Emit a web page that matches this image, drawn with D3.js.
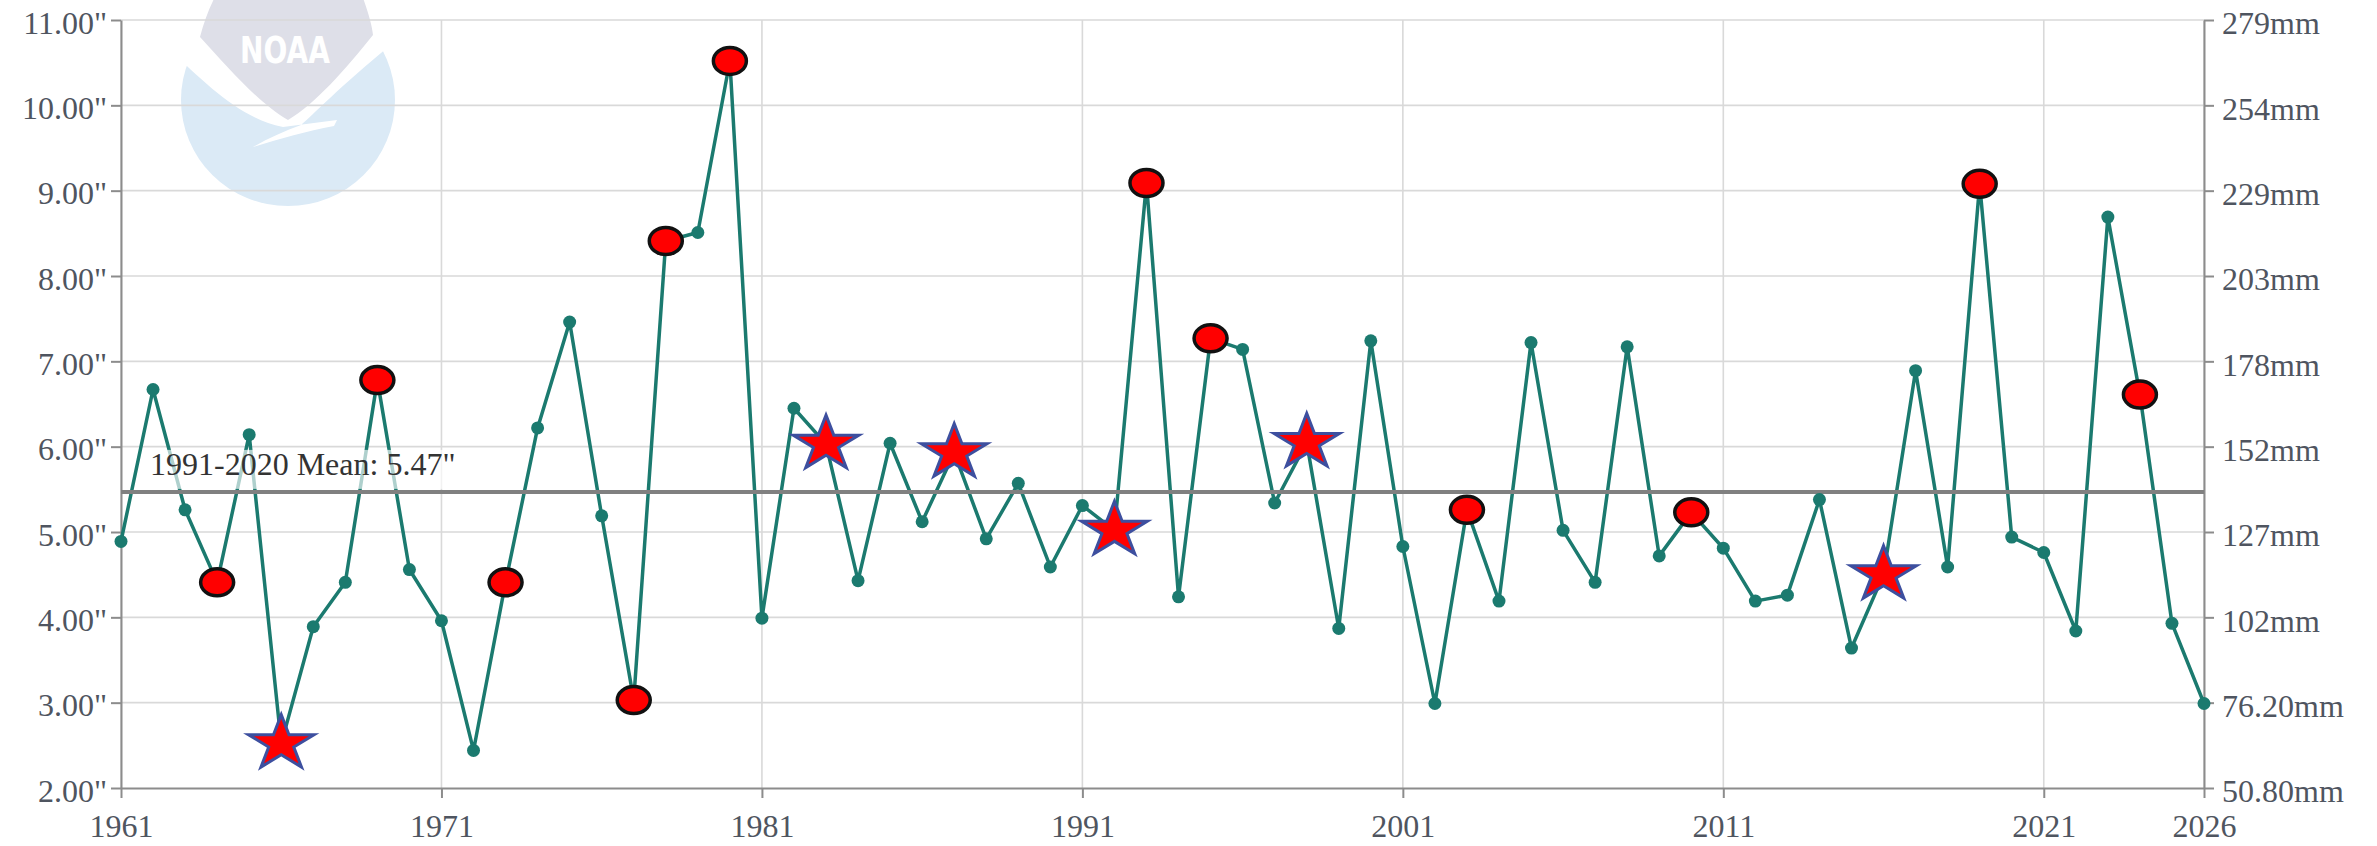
<!DOCTYPE html>
<html>
<head>
<meta charset="utf-8">
<script src="https://cdn.jsdelivr.net/npm/d3@7/dist/d3.min.js"></script>
<style>
  html, body { margin: 0; padding: 0; background: #ffffff; }
  svg { display: block; }
  .serif { font-family: "Liberation Serif", "Times New Roman", serif; }
</style>
</head>
<body>
<svg id="chart" width="2377" height="846"></svg>
<script>
// ---------------- DATA ----------------
const years = [
  1961,1962,1963,1964,1965,1966,1967,1968,1969,1970,
  1971,1972,1973,1974,1975,1976,1977,1978,1979,1980,
  1981,1982,1983,1984,1985,1986,1987,1988,1989,1990,
  1991,1992,1993,1994,1995,1996,1997,1998,1999,2000,
  2001,2002,2003,2004,2005,2006,2007,2008,2009,2010,
  2011,2012,2013,2014,2015,2016,2017,2018,2019,2020,
  2021,2022,2023,2024,2025,2026
];
const precipInches = [
  4.89, 6.67, 5.26, 4.41, 6.14, 2.52, 3.89, 4.41, 6.78, 4.56,
  3.96, 2.44, 4.41, 6.22, 7.46, 5.19, 3.03, 8.41, 8.51, 10.52,
  3.99, 6.45, 6.03, 4.43, 6.04, 5.12, 5.93, 4.92, 5.57, 4.59,
  5.31, 5.02, 9.09, 4.24, 7.27, 7.14, 5.34, 6.05, 3.87, 7.24,
  4.83, 2.99, 5.26, 4.19, 7.22, 5.02, 4.41, 7.17, 4.72, 5.23,
  4.81, 4.19, 4.26, 5.38, 3.64, 4.50, 6.89, 4.59, 9.08, 4.94,
  4.76, 3.84, 8.69, 6.61, 3.93, 2.99
];
const circleYears = [1964, 1969, 1973, 1977, 1978, 1980, 1993, 1995, 2003, 2010, 2019, 2024];
const starYears = [1966, 1983, 1987, 1992, 1998, 2016];
const meanValue = 5.47;
const meanLabel = '1991-2020 Mean: 5.47"';
const xTickValues = [1961, 1971, 1981, 1991, 2001, 2011, 2021, 2026];
const yTickValues = [2, 3, 4, 5, 6, 7, 8, 9, 10, 11];
const yTickLabelsIn = ['2.00"', '3.00"', '4.00"', '5.00"', '6.00"', '7.00"', '8.00"', '9.00"', '10.00"', '11.00"'];
const yTickLabelsMm = ['50.80mm', '76.20mm', '102mm', '127mm', '152mm', '178mm', '203mm', '229mm', '254mm', '279mm'];

// ---------------- LAYOUT ----------------
const svg = d3.select('#chart');
const x = d3.scaleLinear().domain([1961, 2026]).range([121, 2204]);
const y = d3.scaleLinear().domain([2, 11]).range([788, 20]);
const teal = '#1b7a6f';
const labelColor = '#4f5560';
const serif = '"Liberation Serif", "Times New Roman", serif';

// ---------------- NOAA WATERMARK ----------------
const logo = svg.append('g').attr('class', 'logo');
logo.append('ellipse').attr('cx', 288).attr('cy', 100).attr('rx', 107).attr('ry', 106)
  .attr('fill', '#dbeaf6');
logo.append('path')
  .attr('d', 'M168,48 C208,86 240,118 283,127 L337,120 L334,126 C306,131 280,139 253,147 C268,138 285,131 301,125 C312,116 338,88 392,44 L392,-5 L168,-5 Z')
  .attr('fill', '#ffffff');
logo.append('path')
  .attr('d', 'M216,-5 L362,-5 C368,12 372,25 373,35 C345,70 315,104 288,120 C260,104 230,70 200,37 C204,22 209,8 216,-5 Z')
  .attr('fill', '#dedfe8');
logo.append('text').attr('x', 285).attr('y', 63).attr('text-anchor', 'middle')
  .style('font-family', '"DejaVu Sans", sans-serif').attr('font-weight', 'bold')
  .attr('font-size', 37).attr('textLength', 90).attr('lengthAdjust', 'spacingAndGlyphs')
  .attr('fill', '#ffffff').text('NOAA');

// ---------------- GRID ----------------
const grid = svg.append('g').attr('class', 'grid');
grid.selectAll('line.h').data(yTickValues.filter(d => d > 2)).join('line')
  .attr('class', 'h')
  .attr('x1', x.range()[0]).attr('x2', x.range()[1])
  .attr('y1', d => y(d)).attr('y2', d => y(d))
  .attr('stroke', '#d9d9d9').attr('stroke-width', 1.6);
grid.selectAll('line.v').data(xTickValues).join('line')
  .attr('class', 'v')
  .attr('x1', d => x(d)).attr('x2', d => x(d))
  .attr('y1', y.range()[1]).attr('y2', y.range()[0])
  .attr('stroke', '#d9d9d9').attr('stroke-width', 1.6);

// ---------------- AXES ----------------
function styleAxis(g) {
  g.attr('font-family', null).attr('font-size', null);
  g.select('.domain').attr('stroke', '#8c8c8c').attr('stroke-width', 2);
  g.selectAll('.tick line').attr('stroke', '#8c8c8c').attr('stroke-width', 2);
  g.selectAll('.tick text').attr('fill', labelColor).attr('class', 'serif')
    .style('font-family', serif).style('font-size', '32px');
}
const leftAxis = svg.append('g').attr('transform', `translate(${x.range()[0]},0)`)
  .call(d3.axisLeft(y).tickValues(yTickValues)
    .tickFormat((d, i) => yTickLabelsIn[i]).tickSize(10).tickSizeOuter(0).tickPadding(4));
styleAxis(leftAxis);
leftAxis.selectAll('.tick text').attr('dy', '0.41em');

const rightAxis = svg.append('g').attr('transform', `translate(${x.range()[1]},0)`)
  .call(d3.axisRight(y).tickValues(yTickValues)
    .tickFormat((d, i) => yTickLabelsMm[i]).tickSize(10).tickSizeOuter(0).tickPadding(8));
styleAxis(rightAxis);
rightAxis.selectAll('.tick text').attr('dy', '0.43em');

const bottomAxis = svg.append('g').attr('transform', `translate(0,${y.range()[0]})`)
  .call(d3.axisBottom(x).tickValues(xTickValues)
    .tickFormat(d3.format('d')).tickSize(10).tickSizeOuter(0).tickPadding(16));
styleAxis(bottomAxis);

// ---------------- DATA LINE ----------------
const data = years.map((yr, i) => ({ year: yr, value: precipInches[i] }));
svg.append('path').datum(data)
  .attr('fill', 'none').attr('stroke', teal).attr('stroke-width', 3.5)
  .attr('stroke-linejoin', 'round')
  .attr('d', d3.line().x(d => x(d.year)).y(d => y(d.value)));

// mean line
svg.append('line')
  .attr('x1', x.range()[0]).attr('x2', x.range()[1])
  .attr('y1', y(meanValue)).attr('y2', y(meanValue))
  .attr('stroke', '#808080').attr('stroke-width', 4);

// mean label with translucent background
const lbl = svg.append('g');
const lblText = lbl.append('text')
  .attr('x', 150).attr('y', y(meanValue) - 17)
  .style('font-family', serif).style('font-size', '32px').attr('fill', '#333333')
  .text(meanLabel);
const bb = lblText.node().getBBox();
lbl.insert('rect', 'text')
  .attr('x', bb.x - 4).attr('y', bb.y + 4).attr('width', bb.width + 8).attr('height', y(meanValue) - 3 - (bb.y + 4))
  .attr('fill', '#ffffff').attr('opacity', 0.65);

// dots
svg.append('g').selectAll('circle').data(data).join('circle')
  .attr('cx', d => x(d.year)).attr('cy', d => y(d.value)).attr('r', 6.5)
  .attr('fill', teal);

// red ellipses
svg.append('g').selectAll('ellipse').data(data.filter(d => circleYears.includes(d.year))).join('ellipse')
  .attr('cx', d => x(d.year)).attr('cy', d => y(d.value))
  .attr('rx', 16.5).attr('ry', 13.5)
  .attr('fill', '#ff0000').attr('stroke', '#111111').attr('stroke-width', 3.5);

// stars
function starPath(R, sx) {
  const pts = [];
  for (let k = 0; k < 10; k++) {
    const a = -Math.PI / 2 + k * Math.PI / 5;
    const r = k % 2 === 0 ? R : R * 0.382;
    pts.push([r * Math.cos(a) * sx, r * Math.sin(a)]);
  }
  return 'M' + pts.map(p => p[0].toFixed(2) + ',' + p[1].toFixed(2)).join('L') + 'Z';
}
svg.append('g').selectAll('path').data(data.filter(d => starYears.includes(d.year))).join('path')
  .attr('transform', d => `translate(${x(d.year)},${y(d.value)})`)
  .attr('d', starPath(29, 1.19))
  .attr('fill', '#ff0000').attr('stroke', '#3d4f9f').attr('stroke-width', 3)
  .attr('stroke-linejoin', 'miter');
</script>
</body>
</html>
